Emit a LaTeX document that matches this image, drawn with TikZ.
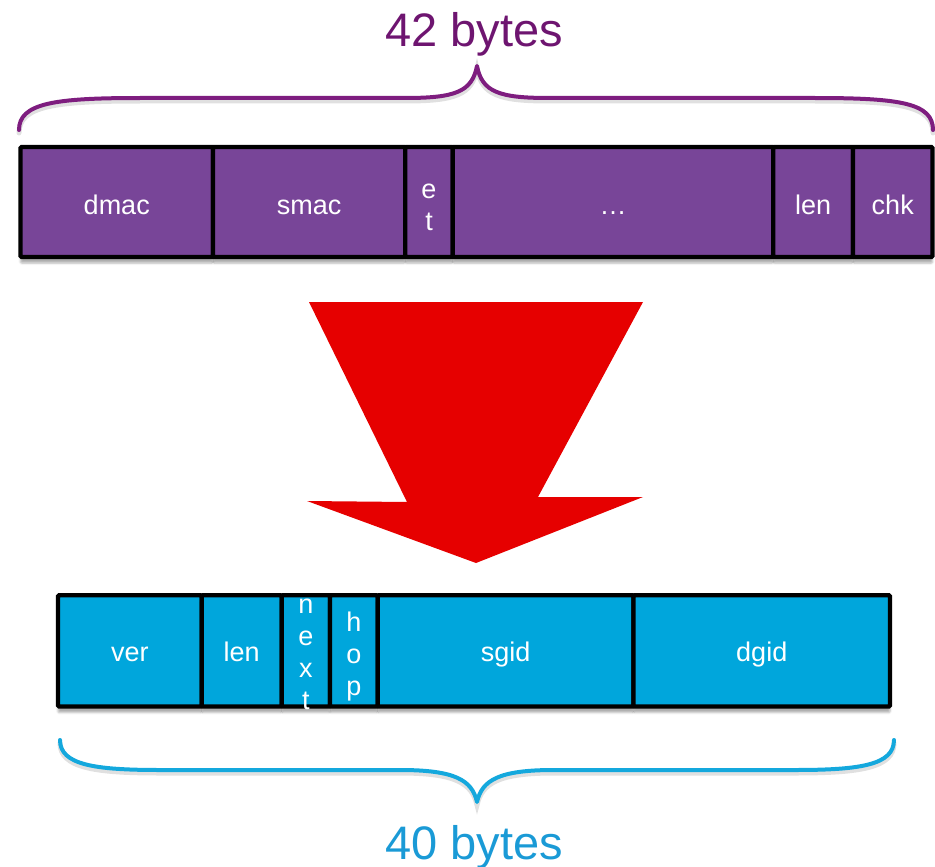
\documentclass[tikz,border=0pt]{standalone}
\usepackage{fontspec}
\setmainfont{Liberation Sans}
\usetikzlibrary{shadows.blur}

\definecolor{framefill}{HTML}{784598}
\definecolor{bracepurple}{HTML}{7E1D7F}
\definecolor{textpurple}{HTML}{6E1570}
\definecolor{packetblue}{HTML}{00A6DC}
\definecolor{braceblue}{HTML}{14A8DD}
\definecolor{textblue}{HTML}{1A9AD6}
\definecolor{arrowred}{HTML}{E60000}

\tikzset{
  field/.style={draw=black, line width=4.3pt, rounded corners=1.2pt,
    outer sep=0pt, inner sep=0pt, anchor=west, text=white,
    font=\fontsize{27}{32}\selectfont, text depth=0pt,
    blur shadow={shadow xshift=0pt, shadow yshift=-6pt, shadow opacity=32}},
  ethfield/.style={field, fill=framefill, minimum height=110pt, text height=24.6pt},
  ibfield/.style={field, fill=packetblue, minimum height=111.2pt, text height=21.8pt},
  fieldtext/.style={text=white, font=\fontsize{27}{32}\selectfont,
    align=center, inner sep=0pt},
  brace/.style={line width=4pt, line cap=round, line join=round},
  braceshade/.style={line width=5pt, draw=black, opacity=0.12, line cap=round},
  sizelabel/.style={anchor=base, font=\fontsize{47}{52}\selectfont, inner sep=0pt}
}

\begin{document}
\begin{tikzpicture}[x=1pt, y=-1pt]
\useasboundingbox (0,0) rectangle (935,867);

% Ethernet frame (top row)
\node[ethfield, minimum width=192.5pt] (dmac) at (20.5,202) {dmac};
\node[ethfield, minimum width=192.3pt] (smac) at (dmac.east) {smac};
\node[ethfield, minimum width=47.4pt]  (et)   at (smac.east) {};
\node[ethfield, minimum width=320.6pt] (rest) at (et.east) {\dots};
\node[ethfield, minimum width=79.7pt]  (elen) at (rest.east) {len};
\node[ethfield, minimum width=79.5pt]  (chk)  at (elen.east) {chk};
\node[fieldtext] (ettext) at ([yshift=-5pt]et.center) {e\\t};

% Top brace
\draw[braceshade, yshift=-3pt]
  (19,130) .. controls (19,103) and (55,98) .. (140,98) -- (405,98)
  .. controls (455,98) and (472,92) .. (477,66)
  .. controls (482,92) and (499,98) .. (549,98) -- (815,98)
  .. controls (900,98) and (933,103) .. (933,130);
\draw[brace, draw=bracepurple]
  (19,130) .. controls (19,103) and (55,98) .. (140,98) -- (405,98)
  .. controls (455,98) and (472,92) .. (477,66)
  .. controls (482,92) and (499,98) .. (549,98) -- (815,98)
  .. controls (900,98) and (933,103) .. (933,130);
\node[sizelabel, text=textpurple] (top) at (474,46.7) {42 bytes};

% Conversion arrow
\fill[arrowred] (309,302) -- (643,302) -- (538,497) -- (643,497)
  -- (476,563) -- (307,501) -- (407,502) -- cycle;

% InfiniBand header (bottom row)
\node[ibfield, minimum width=143.7pt] (ver)  at (58,650.9) {ver};
\node[ibfield, minimum width=80pt]    (blen) at (ver.east) {len};
\node[ibfield, minimum width=48.3pt]  (next) at (blen.east) {};
\node[ibfield, minimum width=47.7pt]  (hop)  at (next.east) {};
\node[ibfield, minimum width=255.8pt] (sgid) at (hop.east) {sgid};
\node[ibfield, minimum width=256.5pt] (dgid) at (sgid.east) {dgid};
\node[fieldtext] (nexttext) at ([yshift=-3.5pt]next.center) {n\\e\\x\\t};
\node[fieldtext] (hoptext)  at ([yshift=-6pt]hop.center) {h\\o\\p};

% Bottom brace
\draw[braceshade, yshift=-3pt]
  (60,740) .. controls (60,765) and (95,770) .. (160,770) -- (400,770)
  .. controls (455,770) and (472,780) .. (477,802)
  .. controls (482,780) and (499,770) .. (554,770) -- (795,770)
  .. controls (860,770) and (894,765) .. (894,740);
\draw[brace, draw=braceblue]
  (60,740) .. controls (60,765) and (95,770) .. (160,770) -- (400,770)
  .. controls (455,770) and (472,780) .. (477,802)
  .. controls (482,780) and (499,770) .. (554,770) -- (795,770)
  .. controls (860,770) and (894,765) .. (894,740);
\node[sizelabel, text=textblue] (bottom) at (474,859) {40 bytes};
\end{tikzpicture}
\end{document}
